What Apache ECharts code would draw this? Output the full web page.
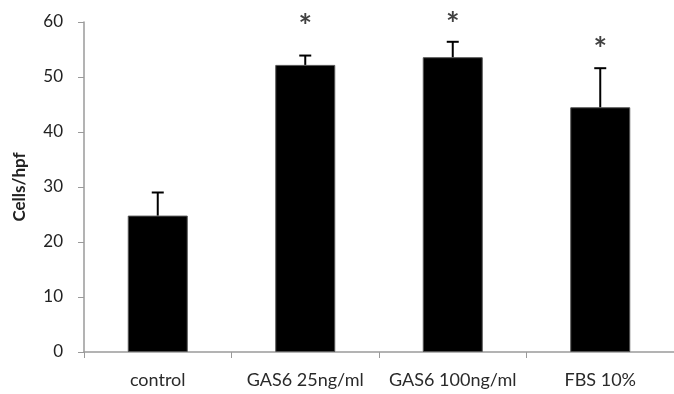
<!DOCTYPE html>
<html>
<head>
<meta charset="utf-8">
<script src="https://cdn.jsdelivr.net/npm/echarts@6/dist/echarts.min.js"></script>
<style>
  html, body { margin: 0; padding: 0; background: #fff; }
  #chart { width: 674px; height: 394px; }
</style>
</head>
<body>
<div id="chart"></div>
<script>
// data
var categories = ["control", "GAS6 25ng/ml", "GAS6 100ng/ml", "FBS 10%"];
var means = [24.8, 52.2, 53.6, 44.5];
var errors = [4.2, 1.7, 2.8, 7.1];
// where the significance stars sit (in axis units)
var starPos = [null, 60.4, 60.7, 56.2];
var yTicks = { min: 0, max: 60, interval: 10 };

var font = "Lato, 'Open Sans', sans-serif";

var errData = [];
for (var i = 0; i < means.length; i++) {
  errData.push([i, means[i], means[i] + errors[i]]);
}
var starData = [];
for (var j = 0; j < starPos.length; j++) {
  if (starPos[j] != null) starData.push([j, starPos[j]]);
}

var myChart = echarts.init(document.getElementById("chart"));
myChart.setOption({
  animation: false,
  grid: {
    left: 84,
    right: -8,
    top: 22,
    bottom: 42
  },
  xAxis: {
    type: "category",
    data: categories,
    axisLine: { lineStyle: { color: "#9a9a9a", width: 1.5 } },
    axisTick: { show: true, length: 6, interval: 0, lineStyle: { color: "#9a9a9a" } },
    axisLabel: {
      interval: 0,
      margin: 19,
      color: "#2a2a2a",
      fontSize: 18,
      fontFamily: font
    }
  },
  yAxis: {
    type: "value",
    min: yTicks.min,
    max: yTicks.max,
    interval: yTicks.interval,
    name: "Cells/hpf",
    nameLocation: "middle",
    nameGap: 56,
    nameTextStyle: {
      color: "#222",
      fontSize: 17,
      fontWeight: "bold",
      fontFamily: font
    },
    splitLine: { show: false },
    axisLine: { show: true, lineStyle: { color: "#9a9a9a", width: 1.5 } },
    axisTick: { show: true, length: 6, lineStyle: { color: "#9a9a9a" } },
    axisLabel: {
      margin: 21,
      color: "#222",
      fontSize: 17,
      fontFamily: font
    }
  },
  series: [
    {
      type: "bar",
      data: means,
      barWidth: 60,
      itemStyle: { color: "#000", borderColor: "#555", borderWidth: 1 }
    },
    {
      type: "custom",
      data: errData,
      z: 5,
      renderItem: function (params, api) {
        var base = api.coord([api.value(0), api.value(1)]);
        var top = api.coord([api.value(0), api.value(2)]);
        var half = 6;
        var style = { stroke: "#000", lineWidth: 2 };
        return {
          type: "group",
          children: [
            { type: "line", shape: { x1: base[0], y1: base[1], x2: top[0], y2: top[1] }, style: style },
            { type: "line", shape: { x1: top[0] - half, y1: top[1], x2: top[0] + half, y2: top[1] }, style: style }
          ]
        };
      }
    },
    {
      type: "scatter",
      data: starData,
      symbolSize: 0,
      clip: false,
      label: {
        show: true,
        position: "inside",
        formatter: "*",
        color: "#111",
        fontSize: 32,
        fontWeight: "bold",
        fontFamily: font,
        offset: [0, 8]
      }
    }
  ]
});
</script>
</body>
</html>
